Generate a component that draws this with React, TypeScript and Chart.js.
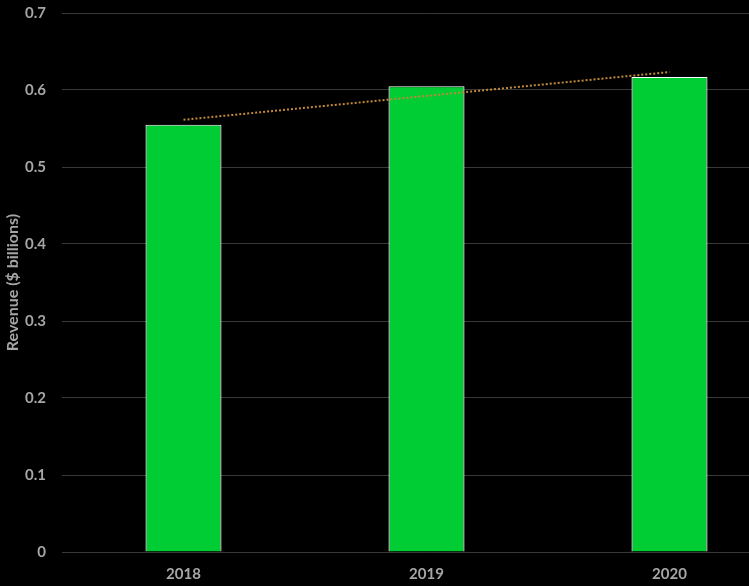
import React, { useEffect, useRef } from "react";
import { Chart, registerables } from "chart.js";

Chart.register(...registerables);

const categories = ["2018", "2019", "2020"];
const revenue = [0.555, 0.605, 0.617];
const yTicks = [0, 0.1, 0.2, 0.3, 0.4, 0.5, 0.6, 0.7];

function linearTrend(values: number[]): number[] {
  const n = values.length;
  const xs = values.map((_, i) => i);
  const mx = xs.reduce((a, b) => a + b, 0) / n;
  const my = values.reduce((a, b) => a + b, 0) / n;
  let num = 0;
  let den = 0;
  xs.forEach((x, i) => {
    num += (x - mx) * (values[i] - my);
    den += (x - mx) * (x - mx);
  });
  const slope = num / den;
  const icpt = my - slope * mx;
  return xs.map((x) => icpt + slope * x);
}

export default function App() {
  const ref = useRef<HTMLCanvasElement | null>(null);

  useEffect(() => {
    document.body.style.margin = "0";
    document.body.style.background = "#000";
    const font = { family: "Lato", weight: "bold" as const, size: 15 };
    const chart = new Chart(ref.current!, {
      data: {
        labels: categories,
        datasets: [
          {
            type: "line",
            data: linearTrend(revenue),
            borderColor: "#C08A3A",
            borderWidth: 2,
            borderDash: [2, 2],
            pointRadius: 0,
            fill: false,
            order: 0,
          },
          {
            type: "bar",
            data: revenue,
            backgroundColor: "#00CC33",
            borderColor: "#FFFFFF",
            borderWidth: 1.2,
            barPercentage: 0.313,
            categoryPercentage: 1,
            order: 1,
          },
        ],
      },
      options: {
        animation: false,
        responsive: true,
        maintainAspectRatio: false,
        layout: { padding: { top: 13, left: 0, right: 0, bottom: 0 } },
        plugins: { legend: { display: false }, tooltip: { enabled: false } },
        scales: {
          x: {
            type: "category",
            grid: { display: false },
            border: { display: false },
            ticks: { color: "#A6A6A6", font, padding: 5 },
            afterFit: (scale: any) => {
              scale.height = 34;
              scale.paddingLeft = 0;
              scale.paddingRight = 0;
            },
          },
          y: {
            min: 0,
            max: 0.7,
            afterBuildTicks: (axis: any) => {
              axis.ticks = yTicks.map((v) => ({ value: v }));
            },
            afterFit: (scale: any) => {
              scale.width = 62;
              scale.paddingTop = 0;
              scale.paddingBottom = 0;
            },
            grid: { color: "#383838", lineWidth: 1, drawTicks: false },
            border: { display: false },
            ticks: {
              color: "#A6A6A6",
              font,
              padding: 16,
              callback: (v: any) => String(Math.round(Number(v) * 10) / 10),
            },
            title: {
              display: true,
              text: "Revenue ($ billions)",
              color: "#A6A6A6",
              font: { family: "Lato", weight: "bold", size: 16 },
              padding: { top: 3.5, bottom: 0 },
            },
          },
        },
      },
    });
    return () => chart.destroy();
  }, []);

  return (
    <div
      style={{
        position: "absolute",
        left: 0,
        top: 0,
        width: 749,
        height: 586,
        overflow: "hidden",
        background: "#000",
      }}
    >
      <div style={{ position: "relative", width: 791, height: 586 }}>
        <canvas ref={ref} />
      </div>
    </div>
  );
}
